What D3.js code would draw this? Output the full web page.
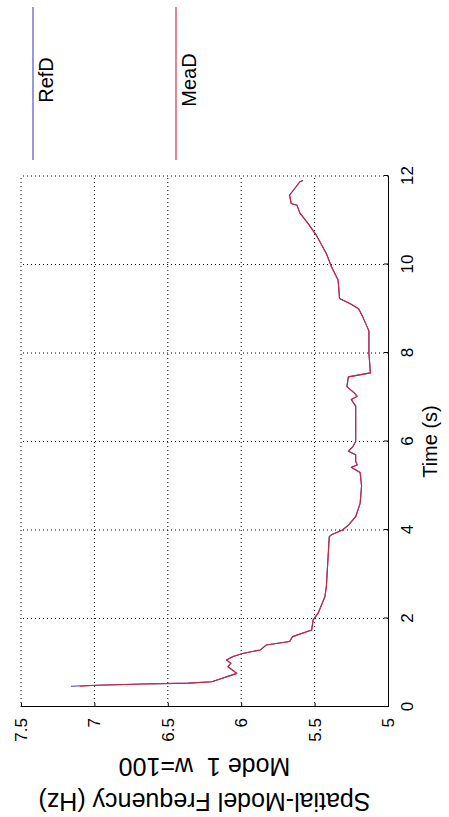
<!DOCTYPE html>
<html><head><meta charset="utf-8">
<script src="https://cdn.jsdelivr.net/npm/d3@7"></script>
<style>
html,body{margin:0;padding:0;background:#fff;}
svg{display:block;font-family:Arial,"Liberation Sans",Helvetica,sans-serif;}
</style>
</head><body>
<svg id="c" width="449" height="817"></svg>
<script>
// ---- data ----
const timeTicks = [0, 2, 4, 6, 8, 10, 12];
const freqTicks = [5, 5.5, 6, 6.5, 7, 7.5];
const freqTickLabels = ["5", "5.5", "6", "6.5", "7", "7.5"];
const timeLabel = "Time (s)";
const freqLabel = ["Spatial-Model Frequency (Hz)", "Mode 1  w=100"];
const seriesNames = ["RefD", "MeaD"];
const seriesColors = ["#4242c6", "#d0243a"];

const time = [0.47, 0.49, 0.52, 0.54, 0.57, 0.76, 0.91, 0.99, 1.06, 1.14,
  1.21, 1.29, 1.40, 1.48, 1.59, 1.74, 1.97, 2.12, 2.49, 2.72,
  3.85, 3.89, 4.00, 4.11, 4.30, 4.60, 5.00, 5.30, 5.42, 5.47,
  5.55, 5.70, 5.78, 5.88, 6.00, 6.50, 6.80, 6.95, 7.02, 7.10,
  7.24, 7.46, 7.55, 8.00, 8.50, 8.80, 9.00, 9.12, 9.23, 9.65,
  9.95, 10.25, 10.67, 10.93, 11.16, 11.34, 11.38, 11.57, 11.87, 11.90];
const refD = [7.16, 6.985, 6.67, 6.36, 6.20, 6.03, 6.09, 6.07, 6.10, 6.055,
  5.99, 5.87, 5.83, 5.67, 5.65, 5.52, 5.51, 5.476, 5.43, 5.42,
  5.40, 5.385, 5.31, 5.27, 5.22, 5.19, 5.18, 5.19, 5.25, 5.21,
  5.22, 5.22, 5.27, 5.24, 5.22, 5.22, 5.22, 5.25, 5.21, 5.23,
  5.28, 5.27, 5.12, 5.13, 5.13, 5.17, 5.20, 5.26, 5.33, 5.34,
  5.385, 5.42, 5.49, 5.545, 5.60, 5.62, 5.66, 5.67, 5.60, 5.58];
const meaD = [7.10, 6.985, 6.67, 6.36, 6.20, 6.03, 6.09, 6.07, 6.10, 6.055,
  5.99, 5.87, 5.83, 5.67, 5.65, 5.52, 5.51, 5.476, 5.43, 5.42,
  5.40, 5.385, 5.31, 5.27, 5.22, 5.19, 5.18, 5.19, 5.25, 5.21,
  5.22, 5.22, 5.27, 5.24, 5.22, 5.22, 5.22, 5.25, 5.21, 5.23,
  5.28, 5.27, 5.12, 5.13, 5.13, 5.17, 5.20, 5.26, 5.33, 5.34,
  5.385, 5.42, 5.49, 5.545, 5.60, 5.62, 5.66, 5.67, 5.60, 5.58];

// ---- chart (drawn unrotated, then rotated -90deg onto the page) ----
const svg = d3.select("#c");
const g = svg.append("g").attr("transform", "translate(0,817) rotate(-90)");

const x = d3.scaleLinear().domain([0, 12]).range([110, 641]);
const y = d3.scaleLinear().domain([5, 7.5]).range([388, 21]);

// grid
const grid = g.append("g").attr("stroke", "#000").attr("stroke-width", 1)
  .attr("stroke-dasharray", "1,3").attr("fill", "none");
grid.selectAll("line.v").data(timeTicks.slice(1)).enter().append("line")
  .attr("x1", d => x(d)).attr("x2", d => x(d))
  .attr("y1", y(5)).attr("y2", y(7.5));
grid.selectAll("line.h").data(freqTicks.slice(1)).enter().append("line")
  .attr("x1", x(0)).attr("x2", x(12))
  .attr("y1", d => y(d)).attr("y2", d => y(d));

// axes
const xAxis = d3.axisBottom(x).tickValues(timeTicks).tickSize(-4).tickSizeOuter(0)
  .tickPadding(13).tickFormat(d3.format("d"));
const gx = g.append("g").attr("transform", `translate(0,${y(5)})`).call(xAxis);
const yAxis = d3.axisLeft(y).tickValues(freqTicks).tickSize(-4).tickSizeOuter(0)
  .tickPadding(11).tickFormat((d, i) => freqTickLabels[i]);
const gy = g.append("g").attr("transform", `translate(${x(0)},0)`).call(yAxis);
[gx, gy].forEach(a => {
  a.selectAll("text").attr("font-size", 17).attr("fill", "#000")
    .attr("font-family", "Arial, 'Liberation Sans', sans-serif");
  a.selectAll("line,path").attr("stroke", "#000").attr("stroke-width", 1);
});

// series
const line = d3.line().x((d, i) => x(time[i])).y(d => y(d));
[refD, meaD].forEach((s, k) => {
  g.append("path").datum(s).attr("d", line).attr("fill", "none")
    .attr("stroke", seriesColors[k]).attr("stroke-width", 1.1)
    .attr("stroke-linejoin", "round");
});

// axis labels
g.append("text").attr("x", (x(0) + x(12)) / 2).attr("y", 437)
  .attr("text-anchor", "middle").attr("font-size", 20).text(timeLabel);
const ylx = [24, 59];
freqLabel.forEach((t, i) => {
  g.append("text").attr("transform", `translate(${ylx[i]},${(y(5) + y(7.5)) / 2}) rotate(-90)`)
    .attr("text-anchor", "middle").attr("font-size", 25)
    .style("white-space", "pre").text(t);
});

// legend
const legY = [33, 176];
seriesNames.forEach((n, k) => {
  g.append("line").attr("x1", 657).attr("x2", 810)
    .attr("y1", legY[k]).attr("y2", legY[k])
    .attr("stroke", seriesColors[k]).attr("stroke-width", 1.1);
  g.append("text").attr("x", 737).attr("y", legY[k] + 20)
    .attr("text-anchor", "middle").attr("font-size", 20).text(n);
});
</script>
</body></html>
